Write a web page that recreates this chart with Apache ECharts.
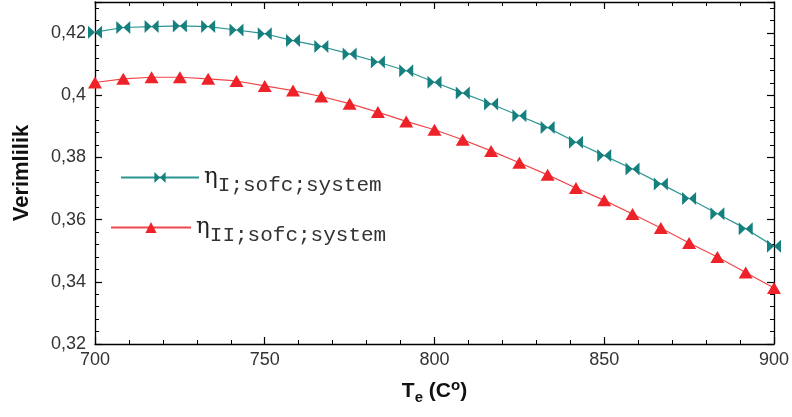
<!DOCTYPE html>
<html>
<head>
<meta charset="utf-8">
<script src="https://cdn.jsdelivr.net/npm/echarts@6/dist/echarts.min.js"></script>
<style>html,body{margin:0;padding:0;background:#fff;}#c{width:792px;height:417px;}</style>
</head>
<body>
<div id="c"></div>
<script>
const temps = [700, 708.33, 716.67, 725, 733.33, 741.67, 750, 758.33, 766.67, 775, 783.33, 791.67, 800, 808.33, 816.67, 825, 833.33, 841.67, 850, 858.33, 866.67, 875, 883.33, 891.67, 900];
const etaI = [0.4203, 0.4218, 0.4221, 0.4223, 0.4221, 0.4210, 0.4198, 0.4176, 0.4157, 0.4133, 0.4107, 0.4079, 0.4042, 0.4007, 0.3972, 0.3934, 0.3896, 0.3849, 0.3806, 0.3763, 0.3715, 0.3668, 0.3619, 0.3571, 0.3514];
const etaII = [0.4041, 0.4053, 0.4058, 0.4058, 0.4053, 0.4046, 0.4030, 0.4015, 0.3996, 0.3973, 0.3946, 0.3916, 0.3889, 0.3857, 0.3821, 0.3783, 0.3744, 0.3702, 0.3662, 0.3618, 0.3573, 0.3525, 0.3480, 0.3430, 0.3380];
const seriesNames = ['ηI;sofc;system', 'ηII;sofc;system'];
const xTicks = [700, 750, 800, 850, 900];
const yTicks = [0.32, 0.34, 0.36, 0.38, 0.40, 0.42];

const bowtie = 'path://M0,0L6,5L0,10ZM12,0L6,5L12,10Z';
const teal = '#16807f';
const red = '#ee2229';

const chart = echarts.init(document.getElementById('c'), null, {renderer: 'canvas'});
const baseFont = 'Liberation Sans, Arial, sans-serif';

function yFmt(v) {
  for (const t of yTicks) {
    if (Math.abs(v - t) < 1e-6) {
      return String(Math.round(t * 100) / 100).replace('.', ',');
    }
  }
  return '';
}

const legendRich = {
  eta: {fontFamily: 'DejaVu Serif, Liberation Serif, serif', fontSize: 23, color: '#222', padding: [0, 0, 0, 0]},
  sub: {fontFamily: 'Liberation Mono, DejaVu Sans Mono, monospace', fontSize: 21, color: '#333', padding: [16, 0, 0, 0]}
};

chart.setOption({
  animation: false,
  backgroundColor: '#fff',
  grid: {left: 95, right: 12, top: 2, bottom: 73, containLabel: false},
  xAxis: [{
    type: 'value', min: 700, max: 900, interval: 50, position: 'bottom',
    axisLine: {show: true, onZero: false, lineStyle: {color: '#000', width: 1.3}},
    axisTick: {show: true, inside: true, length: 7, lineStyle: {color: '#000', width: 1.2}},
    minorTick: {show: true, splitNumber: 5, length: 4, lineStyle: {color: '#000', width: 1}},
    splitLine: {show: false},
    axisLabel: {color: '#333', fontFamily: baseFont, fontSize: 18, margin: 7},
    name: '{t|T}{s|e}{t| (C}{p|o}{t|)}',
    nameLocation: 'middle', nameGap: 34,
    nameTextStyle: {
      rich: {
        t: {fontFamily: baseFont, fontWeight: 'bold', fontSize: 21, color: '#111'},
        s: {fontFamily: baseFont, fontWeight: 'bold', fontSize: 15, color: '#111', padding: [12, 0, 0, 0]},
        p: {fontFamily: baseFont, fontWeight: 'bold', fontSize: 15, color: '#111', padding: [0, 0, 12, 0]}
      }
    }
  }, {
    type: 'value', min: 700, max: 900, interval: 50, position: 'top',
    axisLine: {show: true, onZero: false, lineStyle: {color: '#000', width: 1.3}},
    axisTick: {show: true, inside: true, length: 7, lineStyle: {color: '#000', width: 1.2}},
    minorTick: {show: true, splitNumber: 5, length: 4, lineStyle: {color: '#000', width: 1}},
    splitLine: {show: false},
    axisLabel: {show: false}
  }],
  yAxis: [{
    type: 'value', min: 0.32, max: 0.43, interval: 0.02, position: 'left',
    axisLine: {show: true, onZero: false, lineStyle: {color: '#000', width: 1.3}},
    axisTick: {show: true, inside: true, length: 7, lineStyle: {color: '#000', width: 1.2}},
    minorTick: {show: true, splitNumber: 5, length: 4, lineStyle: {color: '#000', width: 1}},
    splitLine: {show: false},
    axisLabel: {color: '#333', fontFamily: baseFont, fontSize: 18, margin: 9, formatter: yFmt, showMaxLabel: false},
    name: 'Verimlilik', nameLocation: 'middle', nameGap: 62, nameRotate: 90,
    nameTextStyle: {fontFamily: baseFont, fontWeight: 'bold', fontSize: 22, color: '#111'}
  }, {
    type: 'value', min: 0.32, max: 0.43, interval: 0.02, position: 'right',
    axisLine: {show: true, onZero: false, lineStyle: {color: '#000', width: 1.3}},
    axisTick: {show: true, inside: true, length: 7, lineStyle: {color: '#000', width: 1.2}},
    minorTick: {show: true, splitNumber: 5, length: 4, lineStyle: {color: '#000', width: 1}},
    splitLine: {show: false},
    axisLabel: {show: false}
  }],
  legend: [{
    data: [seriesNames[0]], left: 120, top: 166, padding: 0,
    itemWidth: 78, itemHeight: 14,
    formatter: () => '{eta|η}{sub|I;sofc;system}',
    textStyle: {rich: legendRich}
  }, {
    data: [seriesNames[1]], left: 110, top: 216, padding: 0,
    itemWidth: 80, itemHeight: 14,
    formatter: () => '{eta|η}{sub|II;sofc;system}',
    textStyle: {rich: legendRich}
  }],
  series: [{
    name: seriesNames[0], type: 'line', xAxisIndex: 0, yAxisIndex: 0,
    data: temps.map((t, i) => [t, etaI[i]]),
    symbol: bowtie, symbolSize: [14, 13], showAllSymbol: true,
    lineStyle: {color: '#2a9592', width: 1.2},
    itemStyle: {color: teal},
    clip: false
  }, {
    name: seriesNames[1], type: 'line', xAxisIndex: 0, yAxisIndex: 0,
    data: temps.map((t, i) => [t, etaII[i]]),
    symbol: 'triangle', symbolSize: [14, 12], showAllSymbol: true,
    lineStyle: {color: '#f0464a', width: 1.2},
    itemStyle: {color: red},
    clip: false
  }]
});
</script>
</body>
</html>
